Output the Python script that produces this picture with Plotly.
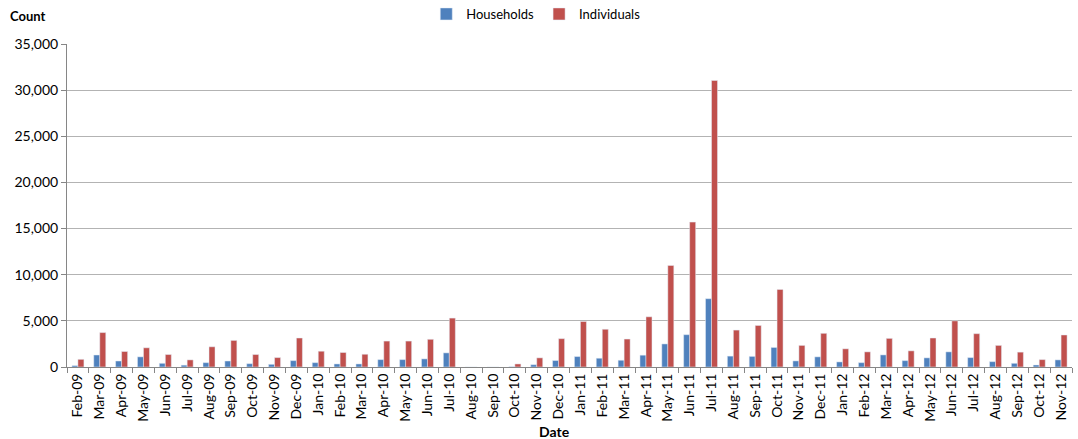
import plotly.graph_objects as go

months = ["Feb-09","Mar-09","Apr-09","May-09","Jun-09","Jul-09","Aug-09","Sep-09","Oct-09","Nov-09","Dec-09",
          "Jan-10","Feb-10","Mar-10","Apr-10","May-10","Jun-10","Jul-10","Aug-10","Sep-10","Oct-10","Nov-10","Dec-10",
          "Jan-11","Feb-11","Mar-11","Apr-11","May-11","Jun-11","Jul-11","Aug-11","Sep-11","Oct-11","Nov-11","Dec-11",
          "Jan-12","Feb-12","Mar-12","Apr-12","May-12","Jun-12","Jul-12","Aug-12","Sep-12","Oct-12","Nov-12"]

households = [150,1300,650,1100,400,200,470,650,360,290,690,
              470,330,330,800,800,880,1530,0,0,30,250,700,
              1130,950,730,1280,2500,3500,7400,1180,1150,2120,660,1100,
              550,470,1310,690,990,1640,1020,580,400,220,770]

individuals = [830,3730,1680,2080,1350,770,2190,2880,1350,1020,3140,
               1710,1570,1380,2810,2810,3000,5300,0,0,330,990,3070,
               4930,4090,3030,5440,11000,15700,31050,4000,4500,8400,2340,3650,
               1970,1640,3100,1750,3140,5000,3610,2340,1610,800,3470]

FONT = "Lato, 'Open Sans', sans-serif"

fig = go.Figure()
fig.add_trace(go.Bar(x=months, y=households, name="Households", marker_color="#4F81BD"))
fig.add_trace(go.Bar(x=months, y=individuals, name="Individuals", marker_color="#C0504D"))

fig.update_layout(
    width=1078, height=439,
    margin=dict(l=67, r=6, t=44, b=72, autoexpand=False),
    paper_bgcolor="white", plot_bgcolor="white",
    font=dict(family=FONT, size=14, color="#000000"),
    barmode="group", bargap=0.45, bargroupgap=0,
    showlegend=True,
    legend=dict(orientation="h", xref="container", yref="container",
                x=0.497, xanchor="center", y=1 - 14/439, yanchor="middle",
                font=dict(size=13), traceorder="normal"),
    xaxis=dict(type="category", tickangle=-90, showgrid=False, automargin=False,
               showline=True, linecolor="#868686", linewidth=1,
               ticks="outside", tickson="boundaries", ticklen=5, tickcolor="#868686",
               tickfont=dict(size=14)),
    yaxis=dict(range=[0, 35000], dtick=5000, tickformat=",", showgrid=True, automargin=False,
               gridcolor="#B3B3B3", gridwidth=1.3, showline=True, linecolor="#868686",
               ticks="outside", ticklen=5, tickcolor="#868686", zeroline=False,
               tickfont=dict(size=14)),
    annotations=[
        dict(text="<b>Count</b>", xref="paper", yref="paper", x=-0.059, y=1.087,
             xanchor="left", yanchor="middle", showarrow=False, font=dict(size=13)),
        dict(text="<b>Date</b>", xref="paper", yref="paper", x=0.485, y=-0.2,
             xanchor="center", yanchor="middle", showarrow=False, font=dict(size=14)),
    ],
)

fig.write_html("out.html", config={"displayModeBar": False},
               post_script="document.body.style.margin='0';document.body.style.overflow='hidden';")
